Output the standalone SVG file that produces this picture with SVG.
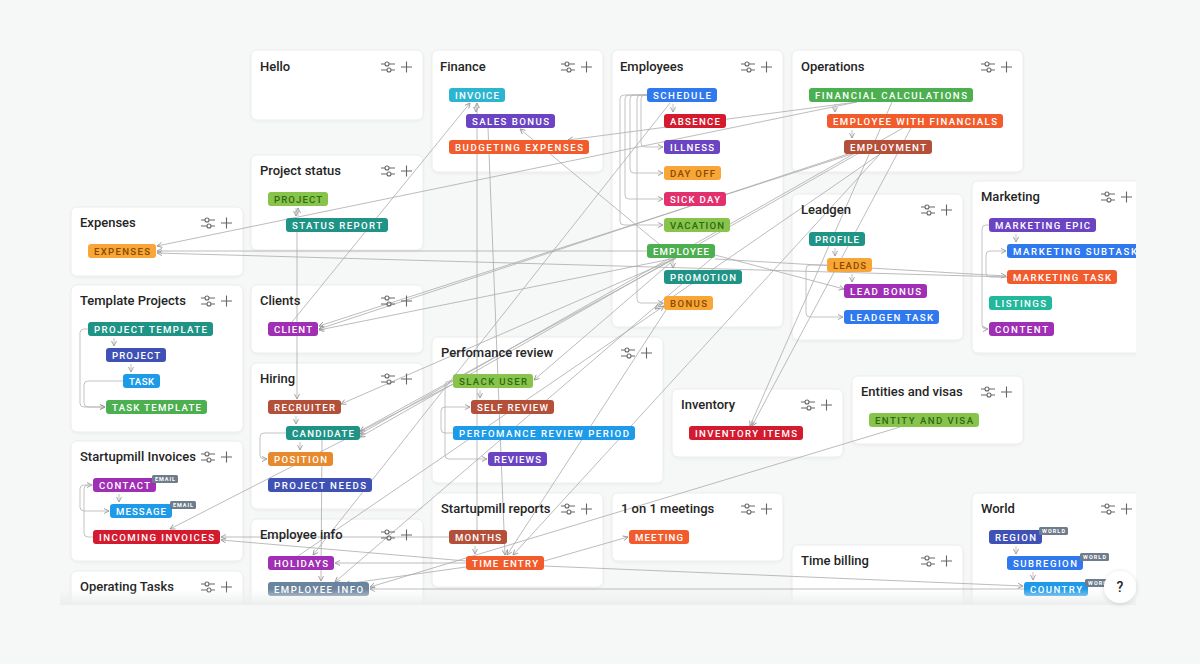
<svg xmlns="http://www.w3.org/2000/svg" width="1200" height="664" viewBox="0 0 1200 664">
<defs>
<style>
.card{fill:#fff;stroke:#ececec;stroke-width:1}
.t{font-family:Roboto,"Liberation Sans",sans-serif;font-size:13px;font-weight:500;fill:#252525}
.g text{font-family:Roboto,"Liberation Sans",sans-serif;font-size:9.6px;font-weight:500;fill:#fff}
.g rect{rx:3;ry:3}
.dk text{fill:#8a4a00}
.dg text{fill:#2f6a12}
.b rect{fill:#6e7c8b}
.b text{font-family:Roboto,"Liberation Sans",sans-serif;font-size:5.5px;font-weight:700;fill:#fff}
.c path{fill:none;stroke:#ababab;stroke-width:0.8;marker-end:url(#a)}
.l path{fill:none;stroke:#b4b4b4;stroke-width:0.8}
.l .ar{marker-end:url(#a)}
.ic{fill:none;stroke:#666;stroke-width:1.1}
</style>
<marker id="a" viewBox="0 0 6 6" refX="5.5" refY="3" markerWidth="6" markerHeight="6" markerUnits="userSpaceOnUse" orient="auto"><path d="M0.5,0.5 L5.5,3 L0.5,5.5" fill="none" stroke="#9a9a9a" stroke-width="0.9"/></marker>
<g id="ic"><path class="ic" d="M-7,-3H-3.2M1.2,-3H7M-7,3H-1.2M3.2,3H7M-1,-3m-2,0a2,2 0 1,0 4,0a2,2 0 1,0 -4,0M1,3m-2,0a2,2 0 1,0 4,0a2,2 0 1,0 -4,0"/><path class="ic" d="M13,0H24M18.5,-5.5V5.5" stroke-width="1.3"/></g>
<filter id="sh" x="-10%" y="-10%" width="120%" height="130%"><feDropShadow dx="0" dy="1" stdDeviation="1.2" flood-color="#000" flood-opacity="0.05"/></filter>
<filter id="sh2" x="-50%" y="-50%" width="200%" height="200%"><feDropShadow dx="0" dy="1" stdDeviation="2.5" flood-color="#000" flood-opacity="0.15"/></filter>
<clipPath id="cv"><rect x="60" y="0" width="1076" height="605"/></clipPath>
<linearGradient id="fd" x1="0" y1="0" x2="0" y2="1"><stop offset="0" stop-color="#eef0f0" stop-opacity="0"/><stop offset="1" stop-color="#eceeee" stop-opacity="1"/></linearGradient>
</defs>
<rect width="1200" height="664" fill="#f6f7f7"/>
<g clip-path="url(#cv)">
<g filter="url(#sh)">
<rect class="card" x="251" y="50" width="172" height="70" rx="6"/>
<rect class="card" x="432" y="50" width="171" height="122" rx="6"/>
<rect class="card" x="612" y="50" width="171" height="277" rx="6"/>
<rect class="card" x="792" y="50" width="231" height="122" rx="6"/>
<rect class="card" x="251" y="155" width="172" height="95" rx="6"/>
<rect class="card" x="71" y="207" width="172" height="69" rx="6"/>
<rect class="card" x="792" y="194" width="171" height="146" rx="6"/>
<rect class="card" x="972" y="181" width="171" height="172" rx="6"/>
<rect class="card" x="71" y="285" width="172" height="147" rx="6"/>
<rect class="card" x="251" y="285" width="172" height="68" rx="6"/>
<rect class="card" x="432" y="337" width="231" height="146" rx="6"/>
<rect class="card" x="251" y="363" width="172" height="146" rx="6"/>
<rect class="card" x="852" y="376" width="171" height="68" rx="6"/>
<rect class="card" x="672" y="389" width="171" height="68" rx="6"/>
<rect class="card" x="71" y="441" width="172" height="120" rx="6"/>
<rect class="card" x="432" y="493" width="171" height="94" rx="6"/>
<rect class="card" x="612" y="493" width="171" height="68" rx="6"/>
<rect class="card" x="972" y="493" width="171" height="130" rx="6"/>
<rect class="card" x="251" y="519" width="172" height="100" rx="6"/>
<rect class="card" x="792" y="545" width="171" height="80" rx="6"/>
<rect class="card" x="71" y="571" width="172" height="60" rx="6"/>
</g>

<g id="connectors" class="c">
<path d="M292,322 L470,103"/>
<path d="M857,102 L157,246"/>
<path d="M857,102 L568,140"/>
<path d="M647,251 L157,251"/>
<path d="M1007,277 L157,253"/>
<path d="M676,258 L520,129"/>
<path d="M715,255 L844,289"/>
<path d="M715,259 L1006,276"/>
<path d="M852,154 L319,326"/>
<path d="M860,150 L319,329"/>
<path d="M676,258 L319,330"/>
<path d="M892,102 L750,426"/>
<path d="M911,128 L752,426"/>
<path d="M477,530 L477,103"/>
<path d="M488,128 L505,555"/>
<path d="M297,232 L297,399"/>
<path d="M322,440 L321,581"/>
<path d="M666,310 L507,555"/>
<path d="M880,154 L513,555"/>
<path d="M544,561 L628,537"/>
<path d="M900,427 L370,587"/>
<path d="M1024,589 L370,589"/>
<path d="M544,566 L1023,586"/>
<path d="M449,537 L221,537"/>
<path d="M466,561 L221,540"/>
<path d="M453,384 L170,529"/>
<path d="M676,258 L341,404"/>
<path d="M676,258 L360,431"/>
<path d="M857,152 L360,434"/>
<path d="M903,128 L360,437"/>
<path d="M670,103 L313,555"/>
<path d="M466,563 L335,563"/>
<path d="M712,258 L335,582"/>
<path d="M298,556 L664,306"/>
<path d="M466,567 L345,584"/>
<path d="M676,258 L534,380"/>
<path d="M880,154 L655,309"/>
</g>

<g id="local" class="l">
<path class="ar" d="M476,104 V112"/>
<path class="ar" d="M673,104 V112"/>
<path class="ar" d="M673,260 V268"/>
<path class="ar" d="M647,95 H645 Q641,95 641,99 V143 Q641,147 645,147 H663"/>
<path class="ar" d="M647,95 H634 Q630,95 630,99 V169 Q630,173 634,173 H663"/>
<path class="ar" d="M647,95 H629 Q625,95 625,99 V195 Q625,199 629,199 H663"/>
<path class="ar" d="M647,95 H624 Q620,95 620,99 V221 Q620,225 624,225 H663"/>
<path class="ar" d="M647,95 H641 Q637,95 637,99 V299 Q637,303 641,303 H663"/>
<path class="ar" d="M835,104 V112"/>
<path class="ar" d="M852,130 V138"/>
<path class="ar" d="M835,248 V256"/>
<path class="ar" d="M852,274 V282"/>
<path class="ar" d="M827,265 H810 Q806,265 806,269 V313 Q806,317 810,317 H843"/>
<path class="ar" d="M1016,234 V242"/>
<path class="ar" d="M989,225 H986 Q982,225 982,229 V325 Q982,329 986,329 H988"/>
<path class="ar" d="M1007,277 H990 Q986,277 986,273 V255 Q986,251 990,251 H1006"/>
<path class="ar" d="M296,208 V216"/>
<path class="ar" d="M298,216 V208"/>
<path class="ar" d="M114,338 V346"/>
<path class="ar" d="M131,364 V372"/>
<path class="ar" d="M88,329 H84 Q80,329 80,333 V403 Q80,407 84,407 H105"/>
<path class="ar" d="M123,381 H88 Q84,381 84,385 V403 Q84,407 88,407 H105"/>
<path class="ar" d="M296,416 V424"/>
<path class="ar" d="M300,442 V450"/>
<path class="ar" d="M286,433 H264 Q260,433 260,437 V455 Q260,459 264,459 H267"/>
<path class="ar" d="M119,494 V502"/>
<path class="ar" d="M93,537 H88 Q84,537 84,533 V489 Q84,485 88,485 H92"/>
<path class="ar" d="M93,485 H84 Q80,485 80,489 V507 Q80,511 84,511 H109"/>
<path class="ar" d="M480,390 V398"/>
<path class="ar" d="M453,381 H449 Q445,381 445,385 V455 Q445,459 449,459 H487"/>
<path class="ar" d="M453,433 H445 Q441,433 441,429 V411 Q441,407 445,407 H470"/>
<path class="ar" d="M475,546 V554"/>
<path class="ar" d="M1016,546 V554" style="stroke:#e0a8a8"/>
<path class="ar" d="M1033,572 V580" style="stroke:#e0a8a8"/>
</g>

<g id="n-hello"><text class="t" x="260" y="71">Hello</text><use href="#ic" x="388" y="67"/></g>

<g id="n-finance"><text class="t" x="440" y="71">Finance</text><use href="#ic" x="568" y="67"/>
<g class="g"><rect x="449" y="88" width="56" height="14" fill="#2cb5d1"/><text x="455" y="98.5" textLength="44">INVOICE</text></g>
<g class="g"><rect x="466" y="114" width="89" height="14" fill="#6a44c2"/><text x="472" y="124.5" textLength="77">SALES BONUS</text></g>
<g class="g"><rect x="449" y="140" width="140" height="14" fill="#f25b2c"/><text x="455" y="150.5" textLength="128">BUDGETING EXPENSES</text></g>
</g>

<g id="n-employees"><text class="t" x="620" y="71">Employees</text><use href="#ic" x="748" y="67"/>
<g class="g"><rect x="647" y="88" width="70" height="14" fill="#2f78ee"/><text x="653" y="98.5" textLength="58">SCHEDULE</text></g>
<g class="g"><rect x="664" y="114" width="62" height="14" fill="#d41a2e"/><text x="670" y="124.5" textLength="50">ABSENCE</text></g>
<g class="g"><rect x="664" y="140" width="56" height="14" fill="#6a44c2"/><text x="670" y="150.5" textLength="44">ILLNESS</text></g>
<g class="g dk"><rect x="664" y="166" width="57" height="14" fill="#f8a637"/><text x="670" y="176.5" textLength="45">DAY OFF</text></g>
<g class="g"><rect x="664" y="192" width="62" height="14" fill="#e2306d"/><text x="670" y="202.5" textLength="50">SICK DAY</text></g>
<g class="g dg"><rect x="664" y="218" width="66" height="14" fill="#88c34c"/><text x="670" y="228.5" textLength="54">VACATION</text></g>
<g class="g"><rect x="647" y="244" width="68" height="14" fill="#4caf50"/><text x="653" y="254.5" textLength="56">EMPLOYEE</text></g>
<g class="g"><rect x="664" y="270" width="78" height="14" fill="#1f9486"/><text x="670" y="280.5" textLength="66">PROMOTION</text></g>
<g class="g dk"><rect x="664" y="296" width="49" height="14" fill="#f8a637"/><text x="670" y="306.5" textLength="37">BONUS</text></g>
</g>

<g id="n-operations"><text class="t" x="801" y="71">Operations</text><use href="#ic" x="988" y="67"/>
<g class="g"><rect x="809" y="88" width="164" height="14" fill="#4caf50"/><text x="815" y="98.5" textLength="152">FINANCIAL CALCULATIONS</text></g>
<g class="g"><rect x="827" y="114" width="176" height="14" fill="#f25b2c"/><text x="833" y="124.5" textLength="164">EMPLOYEE WITH FINANCIALS</text></g>
<g class="g"><rect x="844" y="140" width="88" height="14" fill="#b4503a"/><text x="850" y="150.5" textLength="76">EMPLOYMENT</text></g>
</g>

<g id="n-projectstatus"><text class="t" x="260" y="175">Project status</text><use href="#ic" x="388" y="171"/>
<g class="g dg"><rect x="268" y="192" width="60" height="14" fill="#88c34c"/><text x="274" y="202.5" textLength="48">PROJECT</text></g>
<g class="g"><rect x="286" y="218" width="102" height="14" fill="#1f9486"/><text x="292" y="228.5" textLength="90">STATUS REPORT</text></g>
</g>

<g id="n-expenses"><text class="t" x="80" y="227">Expenses</text><use href="#ic" x="208" y="223"/>
<g class="g dk"><rect x="88" y="244" width="68" height="14" fill="#f8a637"/><text x="94" y="254.5" textLength="56">EXPENSES</text></g>
</g>

<g id="n-leadgen"><text class="t" x="801" y="214">Leadgen</text><use href="#ic" x="928" y="210"/>
<g class="g"><rect x="809" y="232" width="56" height="14" fill="#1f9486"/><text x="815" y="242.5" textLength="44">PROFILE</text></g>
<g class="g dk"><rect x="827" y="258" width="45" height="14" fill="#f8a637"/><text x="833" y="268.5" textLength="33">LEADS</text></g>
<g class="g"><rect x="844" y="284" width="83" height="14" fill="#a02fb5"/><text x="850" y="294.5" textLength="71">LEAD BONUS</text></g>
<g class="g"><rect x="844" y="310" width="95" height="14" fill="#2f78ee"/><text x="850" y="320.5" textLength="83">LEADGEN TASK</text></g>
</g>

<g id="n-marketing"><text class="t" x="981" y="201">Marketing</text><use href="#ic" x="1108" y="197"/>
<g class="g"><rect x="989" y="218" width="107" height="14" fill="#6a44c2"/><text x="995" y="228.5" textLength="95">MARKETING EPIC</text></g>
<g class="g"><rect x="1007" y="244" width="136" height="14" fill="#2f78ee"/><text x="1013" y="254.5" textLength="124">MARKETING SUBTASK</text></g>
<g class="g"><rect x="1007" y="270" width="110" height="14" fill="#f25b2c"/><text x="1013" y="280.5" textLength="98">MARKETING TASK</text></g>
<g class="g"><rect x="989" y="296" width="63" height="14" fill="#22b89b"/><text x="995" y="306.5" textLength="51">LISTINGS</text></g>
<g class="g"><rect x="989" y="322" width="65" height="14" fill="#a02fb5"/><text x="995" y="332.5" textLength="53">CONTENT</text></g>
</g>

<g id="n-templateprojects"><text class="t" x="80" y="305">Template Projects</text><use href="#ic" x="208" y="301"/>
<g class="g"><rect x="88" y="322" width="125" height="14" fill="#1f9486"/><text x="94" y="332.5" textLength="113">PROJECT TEMPLATE</text></g>
<g class="g"><rect x="106" y="348" width="60" height="14" fill="#3f51b5"/><text x="112" y="358.5" textLength="48">PROJECT</text></g>
<g class="g"><rect x="123" y="374" width="37" height="14" fill="#1e9be8"/><text x="129" y="384.5" textLength="25">TASK</text></g>
<g class="g"><rect x="106" y="400" width="101" height="14" fill="#4caf50"/><text x="112" y="410.5" textLength="89">TASK TEMPLATE</text></g>
</g>

<g id="n-clients"><text class="t" x="260" y="305">Clients</text><use href="#ic" x="388" y="301"/>
<g class="g"><rect x="268" y="322" width="50" height="14" fill="#a02fb5"/><text x="274" y="332.5" textLength="38">CLIENT</text></g>
</g>

<g id="n-perfreview"><text class="t" x="441" y="357">Perfomance review</text><use href="#ic" x="628" y="353"/>
<g class="g dg"><rect x="453" y="374" width="80" height="14" fill="#88c34c"/><text x="459" y="384.5" textLength="68">SLACK USER</text></g>
<g class="g"><rect x="471" y="400" width="83" height="14" fill="#b4503a"/><text x="477" y="410.5" textLength="71">SELF REVIEW</text></g>
<g class="g"><rect x="453" y="426" width="182" height="14" fill="#1e9be8"/><text x="459" y="436.5" textLength="170">PERFOMANCE REVIEW PERIOD</text></g>
<g class="g"><rect x="488" y="452" width="59" height="14" fill="#6a44c2"/><text x="494" y="462.5" textLength="47">REVIEWS</text></g>
</g>

<g id="n-hiring"><text class="t" x="260" y="383">Hiring</text><use href="#ic" x="388" y="379"/>
<g class="g"><rect x="268" y="400" width="73" height="14" fill="#b4503a"/><text x="274" y="410.5" textLength="61">RECRUITER</text></g>
<g class="g"><rect x="286" y="426" width="74" height="14" fill="#1f9486"/><text x="292" y="436.5" textLength="62">CANDIDATE</text></g>
<g class="g"><rect x="268" y="452" width="65" height="14" fill="#e8892e"/><text x="274" y="462.5" textLength="53">POSITION</text></g>
<g class="g"><rect x="268" y="478" width="104" height="14" fill="#3f51b5"/><text x="274" y="488.5" textLength="92">PROJECT NEEDS</text></g>
</g>

<g id="n-entities"><text class="t" x="861" y="396">Entities and visas</text><use href="#ic" x="988" y="392"/>
<g class="g dg"><rect x="869" y="413" width="110" height="14" fill="#88c34c"/><text x="875" y="423.5" textLength="98">ENTITY AND VISA</text></g>
</g>

<g id="n-inventory"><text class="t" x="681" y="409">Inventory</text><use href="#ic" x="808" y="405"/>
<g class="g"><rect x="689" y="426" width="114" height="14" fill="#d41a2e"/><text x="695" y="436.5" textLength="102">INVENTORY ITEMS</text></g>
</g>

<g id="n-invoices"><text class="t" x="80" y="461">Startupmill Invoices</text><use href="#ic" x="208" y="457"/>
<g class="g"><rect x="93" y="478" width="63" height="14" fill="#a02fb5"/><text x="99" y="488.5" textLength="51">CONTACT</text></g>
<g class="b"><rect x="152" y="475" width="26" height="8" rx="1.5"/><text x="155" y="481.2" textLength="20">EMAIL</text></g>
<g class="g"><rect x="110" y="504" width="62" height="14" fill="#1e9be8"/><text x="116" y="514.5" textLength="50">MESSAGE</text></g>
<g class="b"><rect x="170" y="501" width="26" height="8" rx="1.5"/><text x="173" y="507.2" textLength="20">EMAIL</text></g>
<g class="g"><rect x="93" y="530" width="127" height="14" fill="#d41a2e"/><text x="99" y="540.5" textLength="115">INCOMING INVOICES</text></g>
</g>

<g id="n-reports"><text class="t" x="441" y="513">Startupmill reports</text><use href="#ic" x="568" y="509"/>
<g class="g"><rect x="449" y="530" width="58" height="14" fill="#b4503a"/><text x="455" y="540.5" textLength="46">MONTHS</text></g>
<g class="g"><rect x="466" y="556" width="78" height="14" fill="#f25b2c"/><text x="472" y="566.5" textLength="66">TIME ENTRY</text></g>
</g>

<g id="n-oneonone"><text class="t" x="621" y="513">1 on 1 meetings</text><use href="#ic" x="748" y="509"/>
<g class="g"><rect x="629" y="530" width="60" height="14" fill="#f25b2c"/><text x="635" y="540.5" textLength="48">MEETING</text></g>
</g>

<g id="n-world"><text class="t" x="981" y="513">World</text><use href="#ic" x="1108" y="509"/>
<g class="g"><rect x="989" y="530" width="53" height="14" fill="#3f51b5"/><text x="995" y="540.5" textLength="41">REGION</text></g>
<g class="b"><rect x="1039" y="527" width="29" height="8" rx="1.5"/><text x="1042" y="533.2" textLength="23">WORLD</text></g>
<g class="g"><rect x="1007" y="556" width="76" height="14" fill="#2f78ee"/><text x="1013" y="566.5" textLength="64">SUBREGION</text></g>
<g class="b"><rect x="1080" y="553" width="29" height="8" rx="1.5"/><text x="1083" y="559.2" textLength="23">WORLD</text></g>
<g class="g"><rect x="1024" y="582" width="64" height="14" fill="#1e9be8"/><text x="1030" y="592.5" textLength="52">COUNTRY</text></g>
<g class="b"><rect x="1085" y="579" width="29" height="8" rx="1.5"/><text x="1088" y="585.2" textLength="23">WORLD</text></g>
</g>

<g id="n-employeeinfo"><text class="t" x="260" y="539">Employee info</text><use href="#ic" x="388" y="535"/>
<g class="g"><rect x="268" y="556" width="66" height="14" fill="#a02fb5"/><text x="274" y="566.5" textLength="54">HOLIDAYS</text></g>
<g class="g"><rect x="268" y="582" width="101" height="14" fill="#6a839e"/><text x="274" y="592.5" textLength="89">EMPLOYEE INFO</text></g>
</g>

<g id="n-timebilling"><text class="t" x="801" y="565">Time billing</text><use href="#ic" x="928" y="561"/></g>

<g id="n-operatingtasks"><text class="t" x="80" y="591">Operating Tasks</text><use href="#ic" x="208" y="587"/></g>

<rect x="60" y="589" width="1076" height="16" fill="url(#fd)"/>
</g>

<g id="help"><circle cx="1120" cy="587" r="16" fill="#fff" filter="url(#sh2)"/><text x="1120" y="592" text-anchor="middle" font-family="Roboto,'Liberation Sans',sans-serif" font-size="14" font-weight="500" fill="#222">?</text></g>
</svg>
